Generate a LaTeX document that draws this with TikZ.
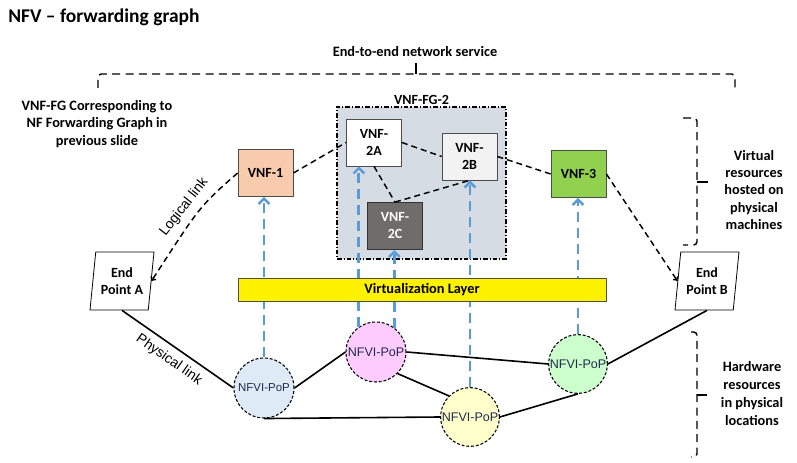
\documentclass[tikz,border=0pt]{standalone}
\usepackage{fontspec}
\setmainfont{Carlito}
\newfontfamily\arialfont{Liberation Sans}
\usetikzlibrary{shapes.geometric,arrows.meta}

\definecolor{vnfOne}{RGB}{248,203,173}
\definecolor{vnfThree}{RGB}{146,208,80}
\definecolor{vnfTwoB}{RGB}{242,242,242}
\definecolor{vnfTwoC}{RGB}{112,108,106}
\definecolor{fgTwoFill}{RGB}{214,220,228}
\definecolor{virtBlue}{RGB}{91,155,213}
\definecolor{popBlue}{RGB}{222,235,247}
\definecolor{popPink}{RGB}{255,204,255}
\definecolor{popYellow}{RGB}{255,255,204}
\definecolor{popGreen}{RGB}{204,255,204}
\definecolor{popText}{RGB}{30,42,80}

\newcommand{\lblfont}{\fontsize{10.75}{13.1}\selectfont\bfseries}
\newcommand{\boxfont}{\fontsize{10.5}{12.75}\selectfont\bfseries}
\newcommand{\popfont}{\arialfont\fontsize{9.4}{11}\selectfont}
\newcommand{\linkfont}{\arialfont\fontsize{10.5}{12}\selectfont}

\begin{document}
\begin{tikzpicture}[x=0.75pt,y=0.75pt,yscale=-1,xscale=1,
  vnfbox/.style={draw=black!70,line width=0.6pt,minimum width=41.25pt,minimum height=35.25pt,align=center,font=\boxfont,inner sep=1pt},
  popnode/.style={circle,draw,dash pattern=on 2.2pt off 1.4pt,line width=0.8pt,minimum size=45pt,inner sep=0pt,font=\popfont,text=popText},
  endpt/.style={trapezium,trapezium left angle=79,trapezium right angle=101,trapezium stretches body,draw,line width=0.6pt,minimum width=48pt,minimum height=43.5pt,inner sep=1pt,align=center,font=\boxfont},
  logic/.style={line width=1.1pt,dash pattern=on 4.5pt off 3pt},
  phys/.style={line width=1.2pt},
  virt/.style={draw=virtBlue,line width=2.2pt,dash pattern=on 7.5pt off 4.5pt,-{Straight Barb[length=4pt,width=8pt,line width=1.8pt]}},
  bracket/.style={line width=1.1pt,dash pattern=on 6pt off 4pt,rounded corners=2.5pt},
  txt/.style={font=\lblfont,align=center,inner sep=0pt}]
\useasboundingbox (0,0) rectangle (797,463);

%Title
\node [anchor=west,inner sep=0pt,font=\fontsize{14.6}{17}\selectfont\bfseries] (title) at (8,17) {NFV -- forwarding graph};

%Brace: end-to-end service
\node [txt] (e2e) at (415,52) {End-to-end network service};
\draw [bracket] (98,88) |- (735,74) -- (735,88) ;
\draw [line width=1.1pt] (416,74) -- (416,63) ;
\node [txt] (fgnote) at (97,124) {VNF-FG Corresponding to\\NF Forwarding Graph in\\previous slide};

%Shape: Rectangle (VNF-FG-2 group)
\node [draw,fill=fgTwoFill,line width=0.8pt,dash pattern=on 3.5pt off 1.5pt on 0.8pt off 1.5pt,minimum width=126.75pt,minimum height=114pt,inner sep=0pt,
  label={[font=\boxfont,inner sep=1.5pt]above:VNF-FG-2}] (fgtwo) at (421.5,183) {};

%Shape: VNF boxes
\node [vnfbox,fill=vnfOne] (vnf1) at (265.5,173) {VNF-1};
\node [vnfbox,fill=white] (vnf2a) at (374,142.5) {VNF-\\2A};
\node [vnfbox,fill=vnfTwoB] (vnf2b) at (469.5,156.5) {VNF-\\2B};
\node [vnfbox,fill=vnfTwoC,draw=black!80,text=white] (vnf2c) at (395,226) {VNF-\\2C};
\node [vnfbox,fill=vnfThree] (vnf3) at (578.5,174) {VNF-3};

%Shape: End points
\node [endpt] (endA) at (122,281) {End\\Point A};
\node [endpt] (endB) at (707,281) {End\\Point B};

%Shape: Circle (NFVI-PoP)
\node [popnode,fill=popBlue,font=\arialfont\fontsize{8.6}{10}\selectfont] (pop1) at (264,388) {NFVI-PoP};
\node [popnode,fill=popPink] (pop2) at (376,352) {NFVI-PoP};
\node [popnode,fill=popYellow,minimum size=44pt] (pop3) at (470,417) {NFVI-PoP};
\node [popnode,fill=popGreen,minimum size=44pt] (pop4) at (578,364) {NFVI-PoP};

%Straight Lines (virtualization)
\draw [virt] (pop1.north) -- (pop1.north |- vnf1.south) ;
\draw [virt] (pop2.124) -- (pop2.124 |- vnf2a.south) ;
\draw [virt] (pop2.53) -- (pop2.53 |- vnf2c.south) ;
\draw [virt] (pop3.north) -- (pop3.north |- vnf2b.south) ;
\draw [virt] (pop4.north) -- (pop4.north |- vnf3.south) ;

%Shape: Rectangle (virtualization layer)
\node [draw=black!70,fill=yellow,line width=0.6pt,minimum width=276pt,minimum height=17.25pt,inner sep=0pt,font=\lblfont] (virtlayer) at (422,289.5) {Virtualization Layer};

%Straight Lines (logical links)
\draw [logic,-{To[length=3pt,width=5pt]}] (vnf1.west) .. controls (200,206) .. (endA.east) ;
\draw [logic] (vnf1.east) -- (vnf2a.west) ;
\draw [logic] (vnf2a.east) -- (vnf2b.west) ;
\draw [logic] (vnf2a.south) -- (vnf2c.north) ;
\draw [logic] (vnf2c.north) -- (vnf2b.south) ;
\draw [logic] (vnf2b.east) -- (vnf3.west) ;
\draw [logic,-{To[length=3pt,width=5pt]}] (vnf3.east) -- (endB.west) ;
\node [font=\linkfont,rotate=52,inner sep=0pt] (loglbl) at (184,207) {Logical link};

%Straight Lines (physical links)
\draw [phys] (endA.south) -- (pop1.west) ;
\draw [phys] (pop1.east) -- (pop2.west) ;
\draw [phys] (pop1.south) -- (pop3.west) ;
\draw [phys] (pop2.east) -- (pop4.west) ;
\draw [phys] (pop2.-45) -- (pop3.135) ;
\draw [phys] (pop3.east) -- (pop4.south) ;
\draw [phys] (pop4.east) -- (endB.south) ;
\node [font=\linkfont,rotate=-35,inner sep=0pt] (physlbl) at (169,360) {Physical link};

%Brace: virtual resources
\draw [bracket] (683,118) -- (697,118) -- (697,245) -- (683,245) ;
\draw [line width=1.1pt] (697,182) -- (708,182) ;
\node [txt] (virtres) at (754,190) {Virtual\\resources\\hosted on\\physical\\machines};

%Brace: hardware resources
\draw [bracket] (691,332) -- (697,332) -- (697,457) -- (691,457) ;
\draw [line width=1.1pt] (697,395) -- (707,395) ;
\node [txt,font=\fontsize{10.75}{13.5}\selectfont\bfseries] (hwres) at (752,394) {Hardware\\resources\\in physical\\locations};

\end{tikzpicture}
\end{document}
